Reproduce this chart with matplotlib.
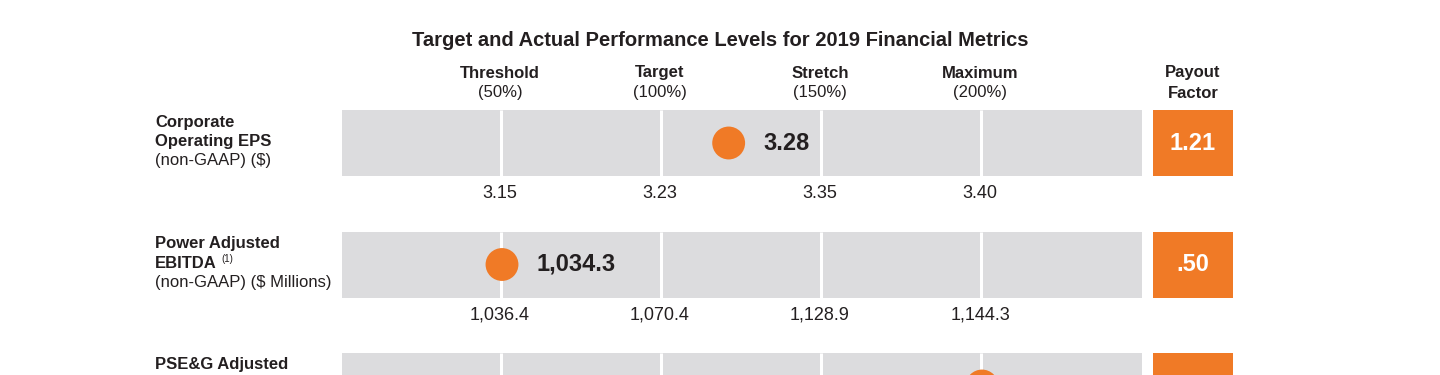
#!/usr/bin/env python3
# -*- coding: utf-8 -*-
"""
Target and actual performance levels for 2019 financial metrics.
Gray band per metric with white lines at each payout level, an orange dot
for the actual result and an orange box with the payout factor.
"""

import numpy as np
import matplotlib
matplotlib.use("Agg")
import matplotlib.pyplot as plt
from matplotlib.patches import Rectangle

# ---- data -------------------------------------------------------------
level_names = ["Threshold", "Target", "Stretch", "Maximum"]
level_payouts = [0.5, 1.0, 1.5, 2.0]

metric_titles = [["Corporate", "Operating EPS"],
                 ["Power Adjusted", "EBITDA"],
                 ["PSE&G Adjusted", "Net Income"]]
metric_units = ["(non-GAAP) ($)", "(non-GAAP) ($ Millions)", "($ Millions)"]
metric_notes = ["", "(1)", ""]

eps_levels = [3.15, 3.23, 3.35, 3.40]
ebitda_levels = [1036.4, 1070.4, 1128.9, 1144.3]
pseg_levels = [1288.0, 1318.0, 1348.0, 1378.0]   # row is cut off in the picture
level_values = [eps_levels, ebitda_levels, pseg_levels]

actuals = [3.28, 1034.3, 1393.0]
value_fmt = ["{:.2f}", "{:,.1f}", "{:,.1f}"]
payout_labels = ["1.21", ".50", "2.00"]

# ---- style ------------------------------------------------------------
ORANGE = "#F07A26"
GRAY = "#DCDCDE"
TEXT = "#231F20"
plt.rcParams["font.family"] = ["Liberation Sans", "DejaVu Sans"]

W, H = 1440, 375
fig = plt.figure(figsize=(W / 100, H / 100), dpi=100)
ax = fig.add_axes([0, 0, 1, 1])
ax.set_xlim(0, W)
ax.set_ylim(H, 0)
ax.axis("off")

# layout in pixels
bar_left = 342
unit_px = 320          # pixels per payout unit, band spans 0..2.5
bar_span = 2.5
row_top0 = 110
row_step = 121.5
row_h = 66
box_left, box_w = 1153, 80
label_x = 155

def xpos(p):
    return bar_left + p * unit_px

def label(x, y, s, **kw):
    # skip text that would fall completely below the cropped picture
    if y - 12 > H:
        return None
    return ax.text(x, y, s, color=TEXT, **kw)

ax.text(720, 40, "Target and Actual Performance Levels for 2019 Financial Metrics",
        ha="center", va="center", fontsize=14.5, fontweight="bold", color=TEXT,
        family=["Liberation Sans Narrow", "Liberation Sans"])

for name, p in zip(level_names, level_payouts):
    label(xpos(p) - 2, 73, name, ha="center", va="center", fontsize=12,
          fontweight="bold")
    label(xpos(p) - 2, 93, f"({int(p * 100)}%)", ha="center", va="center",
          fontsize=12)
label(box_left + box_w / 2, 73, "Payout", ha="center", va="center",
      fontsize=12, fontweight="bold")
label(box_left + box_w / 2, 93, "Factor", ha="center", va="center",
      fontsize=12, fontweight="bold")

for i in range(len(actuals)):
    top = row_top0 + i * row_step
    mid = top + row_h / 2

    # band and level lines
    ax.add_patch(Rectangle((bar_left, top), bar_span * unit_px, row_h,
                           facecolor=GRAY, edgecolor="none"))
    ax.vlines([xpos(p) - 1 for p in level_payouts], top, top + row_h,
              colors="white", linewidth=2.2)

    # level values under the band
    for p, v in zip(level_payouts, level_values[i]):
        label(xpos(p) - 2, top + 83, value_fmt[i].format(v), ha="center",
              va="center", fontsize=13)

    # actual result
    pos = np.interp(actuals[i], level_values[i], level_payouts)
    ax.scatter([xpos(pos)], [mid], s=560, color=ORANGE, edgecolors="none",
               zorder=3)
    label(xpos(pos) + 35, mid, value_fmt[i].format(actuals[i]), ha="left",
          va="center", fontsize=17, fontweight="bold")

    # payout factor box
    ax.add_patch(Rectangle((box_left, top), box_w, row_h,
                           facecolor=ORANGE, edgecolor="none"))
    ax.text(box_left + box_w / 2, mid, payout_labels[i], ha="center",
            va="center", fontsize=17, fontweight="bold", color="white")

    # metric label
    first, second = metric_titles[i]
    label(label_x, top + 12, first, ha="left", va="center", fontsize=12,
          fontweight="bold")
    t = label(label_x, top + 31.5, second, ha="left", va="center",
              fontsize=12, fontweight="bold")
    if metric_notes[i] and t is not None:
        fig.canvas.draw()
        bb = t.get_window_extent()
        label(bb.x1 + 5, top + 27, metric_notes[i], ha="left",
              va="center", fontsize=7)
    label(label_x, top + 51, metric_units[i], ha="left", va="center",
          fontsize=12)

fig.savefig("out.png", dpi=100)
